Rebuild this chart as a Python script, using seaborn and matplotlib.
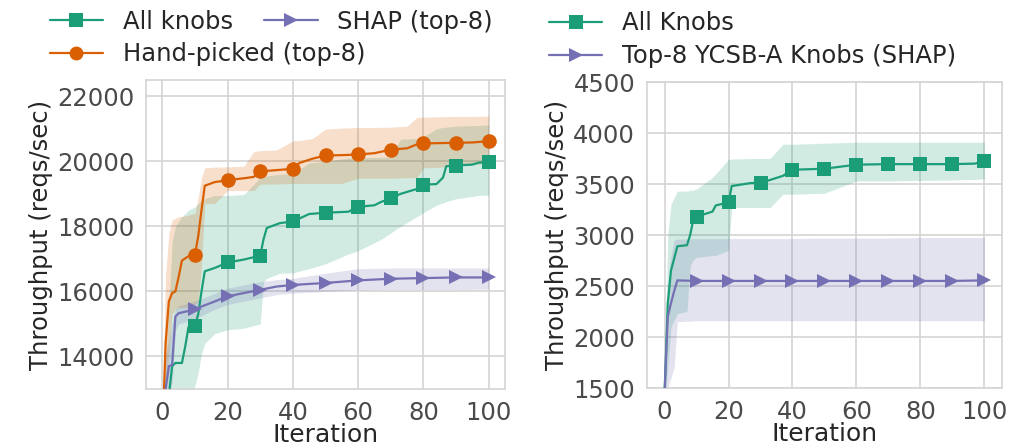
import numpy as np
import pandas as pd
import matplotlib
matplotlib.use("Agg")
import matplotlib.pyplot as plt
import seaborn as sns
from matplotlib.lines import Line2D

# ---- left panel: all knobs vs hand-picked vs SHAP top-8 ----
all_x = [0, 2, 3, 4, 6, 7, 8, 10, 11, 12, 13, 16, 20, 25, 30, 31, 32, 36, 40, 45, 50,
         57, 60, 65, 67, 70, 73, 78, 80, 84, 86, 87, 90, 95, 97, 100]
all_mean = [11000, 12800, 13700, 13800, 13800, 14300, 14900, 14940, 15300, 16000, 16620,
            16720, 16890, 16980, 17100, 17600, 17950, 18100, 18150, 18380, 18420, 18450,
            18600, 18650, 18750, 18860, 19000, 19150, 19285, 19300, 19500, 19850, 19870,
            19900, 19960, 19975]
all_hi = [12000, 15500, 17500, 18000, 18300, 18400, 18500, 18600, 18700, 18800, 18850,
          18950, 18950, 18980, 19500, 19520, 19550, 19600, 19620, 19950, 20000, 20100,
          20120, 20120, 20120, 20130, 20680, 20700, 20750, 21000, 21040, 21050, 21080,
          21100, 21100, 21120]
all_lo = [9000, 10500, 11000, 11500, 12000, 12300, 12600, 13100, 13500, 14100, 14400,
          14700, 14820, 14870, 15000, 16300, 16400, 16560, 16570, 16700, 16850, 17150,
          17250, 17500, 17600, 17800, 18000, 18300, 18420, 18650, 18720, 18760, 18850,
          18920, 18950, 18960]

hand_x = [0, 1, 2, 3, 4, 5, 6, 8, 10, 11, 12, 13, 16, 20, 25, 28, 30, 35, 40, 42, 46,
          50, 55, 60, 65, 70, 75, 78, 80, 85, 90, 95, 100]
hand_mean = [11500, 14400, 15700, 15950, 16000, 16450, 16950, 17080, 17130, 17700, 18500,
             19250, 19360, 19420, 19480, 19520, 19690, 19730, 19770, 19950, 20080, 20180,
             20190, 20210, 20250, 20360, 20400, 20520, 20550, 20560, 20570, 20580, 20620]
hand_hi = [12500, 16500, 17800, 18200, 18250, 18300, 18300, 18350, 18400, 18900, 19500,
           19800, 19820, 19830, 19850, 20300, 20330, 20350, 20630, 20640, 20700, 20990,
           21020, 21040, 21040, 21050, 21080, 21350, 21360, 21370, 21380, 21380, 21390]
hand_lo = [10500, 13000, 14100, 15300, 15450, 15500, 15500, 15500, 15600, 15700, 16800,
           18700, 18700, 19100, 19100, 19100, 19300, 19300, 19320, 19320, 19320, 19320,
           19320, 19480, 19480, 19480, 19500, 19500, 19800, 19820, 19850, 19900, 19940]

shap_x = [0, 1, 2, 3, 4, 5, 8, 10, 15, 20, 25, 30, 35, 40, 50, 60, 70, 80, 90, 100]
shap_mean = [11500, 13000, 13700, 13740, 15230, 15330, 15400, 15460, 15650, 15850, 15950,
             16050, 16150, 16200, 16260, 16340, 16390, 16410, 16430, 16430]
shap_hi = [12500, 14000, 14500, 15000, 15450, 15550, 15650, 15700, 15900, 16100, 16200,
           16300, 16360, 16400, 16560, 16700, 16720, 16720, 16720, 16720]
shap_lo = [10500, 12000, 12800, 13200, 14800, 15000, 15100, 15150, 15400, 15600, 15700,
           15800, 15900, 15950, 16000, 16050, 16060, 16060, 16060, 16070]

# ---- right panel: all knobs vs top-8 YCSB-A knobs ----
ra_x = [0, 1, 2, 4, 7, 8, 9, 10, 15, 16, 20, 21, 27, 30, 33, 37, 40, 50, 60, 70, 80, 90, 97, 100]
ra_mean = [1450, 2330, 2650, 2890, 2900, 3000, 3150, 3180, 3230, 3290, 3320, 3480, 3510,
           3510, 3540, 3580, 3640, 3650, 3690, 3695, 3695, 3695, 3700, 3725]
ra_hi = [1600, 3000, 3300, 3430, 3430, 3440, 3440, 3450, 3565, 3600, 3740, 3745, 3750,
         3750, 3750, 3890, 3890, 3900, 3910, 3910, 3910, 3910, 3910, 3910]
ra_lo = [1300, 1700, 2100, 2230, 2250, 2700, 2760, 2780, 2800, 2800, 2850, 3270, 3270,
         3270, 3270, 3400, 3400, 3410, 3530, 3530, 3535, 3540, 3545, 3550]

rs_x = [0, 1, 2, 3, 4, 10, 20, 30, 40, 50, 60, 70, 80, 90, 100]
rs_mean = [1450, 2200, 2330, 2450, 2555, 2550, 2550, 2550, 2550, 2550, 2550, 2550, 2550, 2550, 2555]
rs_hi = [1600, 2500, 2800, 2950, 2960, 2965, 2965, 2965, 2965, 2970, 2970, 2970, 2975, 2975, 2975]
rs_lo = [1300, 1500, 1600, 1700, 2150, 2160, 2160, 2160, 2160, 2160, 2160, 2160, 2160, 2160, 2160]

GREEN, ORANGE, PURPLE = sns.color_palette("Dark2", 3)

sns.set_style("whitegrid", {"grid.color": "#d4d4d4", "axes.edgecolor": "#d4d4d4"})
plt.rcParams['font.family'] = ['DejaVu Sans']


def draw(ax, x, mean, lo, hi, color, marker, ms):
    df = pd.DataFrame({"Iteration": x, "Throughput": mean})
    marks = [i for i, v in enumerate(x) if v % 10 == 0 and v > 0]
    sns.lineplot(data=df, x="Iteration", y="Throughput", ax=ax, color=color,
                 marker=marker, markersize=ms, markevery=marks, markeredgewidth=0,
                 linewidth=1.6, zorder=3)
    ax.fill_between(x, lo, hi, color=color, alpha=0.2, linewidth=0, zorder=2)


fig = plt.figure(figsize=(10.12, 4.48), dpi=100)
ax1 = fig.add_axes([0.1443, 0.1317, 0.3547, 0.6897])
ax2 = fig.add_axes([0.6393, 0.1339, 0.3508, 0.683])

draw(ax1, all_x, all_mean, all_lo, all_hi, GREEN, "s", 10)
draw(ax1, hand_x, hand_mean, hand_lo, hand_hi, ORANGE, "o", 10.5)
draw(ax1, shap_x, shap_mean, shap_lo, shap_hi, PURPLE, ">", 10)

draw(ax2, ra_x, ra_mean, ra_lo, ra_hi, GREEN, "s", 10)
draw(ax2, rs_x, rs_mean, rs_lo, rs_hi, PURPLE, ">", 10)

ax1.set_xlim(-5, 105)
ax1.set_ylim(13000, 22500)
ax1.set_yticks([14000, 16000, 18000, 20000, 22000])
ax2.set_xlim(-5.5, 105.5)
ax2.set_ylim(1500, 4500)
ax2.set_yticks(np.arange(1500, 4501, 500))

for ax in (ax1, ax2):
    ax.set_xticks([0, 20, 40, 60, 80, 100])
    ax.tick_params(labelsize=17.5, colors="#4a4a4a", pad=5)
    ax.set_xlabel("Iteration", fontsize=18, color="#262626", labelpad=-1)
    ax.set_ylabel("Throughput (reqs/sec)", fontsize=17.5, color="#262626", labelpad=3)
    for s in ax.spines.values():
        s.set_linewidth(1.2)
    ax.grid(linewidth=1.2)


def handle(color, marker, ms):
    return Line2D([], [], color=color, marker=marker, markersize=ms,
                  markeredgewidth=0, linewidth=1.6)


leg_kw = dict(frameon=False, fontsize=17.5, handlelength=2.2, handletextpad=0.8,
              borderpad=0, borderaxespad=0, loc="upper left")
fig.legend([handle(GREEN, "s", 9.5), handle(PURPLE, ">", 9.5)],
           ["All knobs", "SHAP (top-8)"], ncol=2, columnspacing=1.3,
           bbox_to_anchor=(0.049, 0.978), **leg_kw)
fig.legend([handle(ORANGE, "o", 10)], ["Hand-picked (top-8)"],
           bbox_to_anchor=(0.049, 0.906), **leg_kw)
fig.legend([handle(GREEN, "s", 9.5), handle(PURPLE, ">", 9.5)],
           ["All Knobs", "Top-8 YCSB-A Knobs (SHAP)"], labelspacing=0.38,
           bbox_to_anchor=(0.5425, 0.975), **leg_kw)

fig.savefig("out.png", dpi=100)
